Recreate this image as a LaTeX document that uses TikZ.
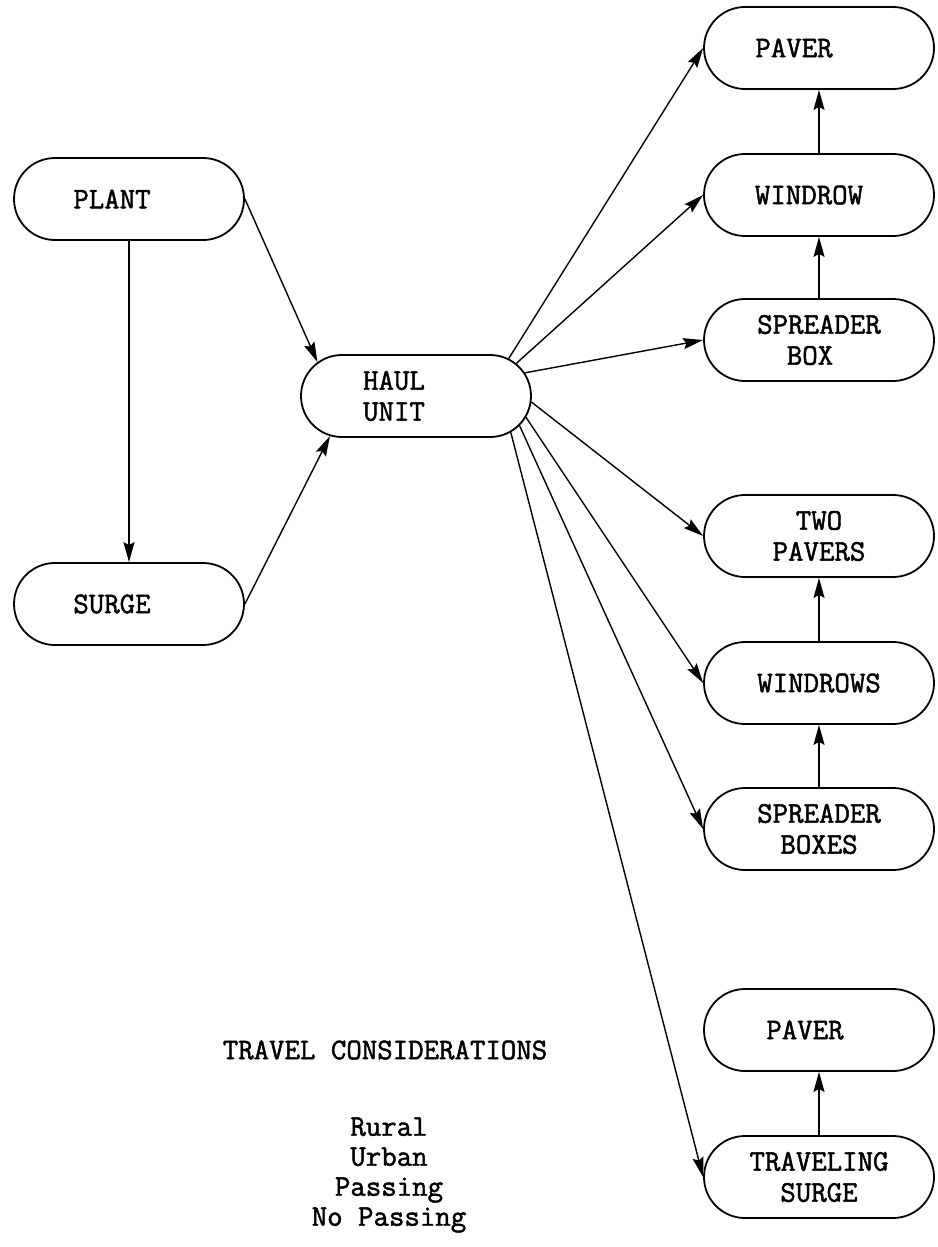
\documentclass[tikz,border=0pt]{standalone}
\usepackage{fontspec}
\newfontfamily\tw{Latin Modern Mono}[FakeBold=1.6]
\usetikzlibrary{shapes.misc,arrows.meta}
\begin{document}
\begin{tikzpicture}[x=1pt,y=-1pt,
  box/.style={rounded rectangle, draw, line width=1.8pt, minimum width=230pt,
    minimum height=82pt, inner sep=0pt, align=center,
    font=\tw\fontsize{30}{31}\selectfont},
  conn/.style={line width=1.4pt, -{Stealth[length=20pt,width=11pt,inset=3pt]}},
  lbl/.style={align=center, font=\tw\fontsize{30}{30}\selectfont}]
\useasboundingbox (0,0) rectangle (937,1247);
\node[box] (plant) at (129,199) {PLANT\hspace*{34pt}};
\node[box] (surge) at (129,604) {SURGE\hspace*{34pt}};
\node[box] (haul) at (416,396) {HAUL\hspace*{44pt}\\UNIT\hspace*{44pt}};
\node[box] (paver1) at (819,48) {PAVER\hspace*{50pt}};
\node[box] (windrow) at (819,195) {WINDROW\hspace*{20pt}};
\node[box] (sbox) at (819,340) {SPREADER\\BOX\hspace*{18pt}};
\node[box] (twopavers) at (819,536) {TWO\\PAVERS};
\node[box] (windrows) at (819,683) {WINDROWS};
\node[box] (sboxes) at (819,829) {SPREADER\\BOXES};
\node[box] (paver2) at (819,1030) {PAVER\hspace*{28pt}};
\node[box] (tsurge) at (819,1177) {TRAVELING\\SURGE};
\node[lbl] (travel) at (385,1050) {TRAVEL CONSIDERATIONS};
\node[lbl] (list) at (389,1175) {Rural\\Urban\\Passing\\No Passing};
\draw[conn] (plant.south) -- (surge.north);
\draw[conn] (plant.east) -- (haul.161);
\draw[conn] (surge.east) -- (haul.205);
\draw[conn] (haul.22) -- (paver1.west);
\draw[conn] (haul.18) -- (windrow.west);
\draw[conn] (haul.12) -- (sbox.west);
\draw[conn] (haul.-3) -- (twopavers.west);
\draw[conn] (haul.-11) -- (windrows.west);
\draw[conn] (haul.-16) -- (sboxes.west);
\draw[conn] (haul.-21) -- (tsurge.west);
\draw[conn] (windrow.north) -- (paver1.south);
\draw[conn] (sbox.north) -- (windrow.south);
\draw[conn] (windrows.north) -- (twopavers.south);
\draw[conn] (sboxes.north) -- (windrows.south);
\draw[conn] (tsurge.north) -- (paver2.south);
\end{tikzpicture}
\end{document}
